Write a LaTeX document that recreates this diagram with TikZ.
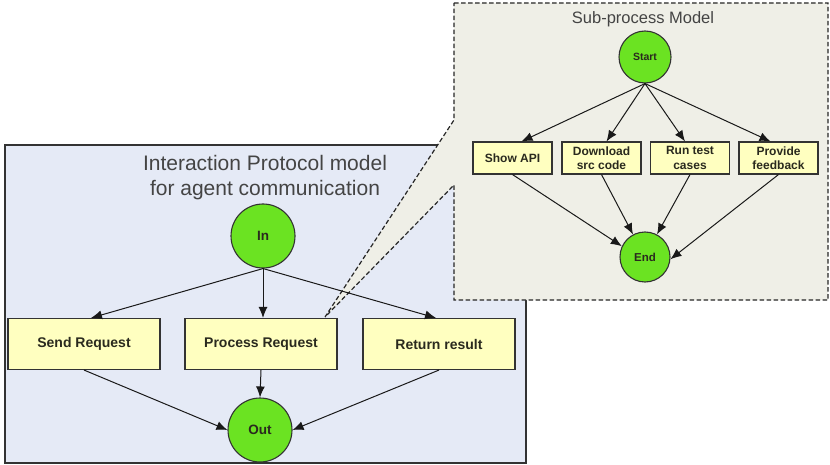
\documentclass[tikz,border=0pt]{standalone}
\usepackage{fontspec}
\setmainfont{Liberation Sans}
\usetikzlibrary{arrows.meta}
\definecolor{bluebg}{HTML}{E5EAF6}
\definecolor{calloutbg}{HTML}{EFEFE7}
\definecolor{boxyellow}{HTML}{FFFFC0}
\definecolor{nodegreen}{HTML}{6BE322}
\definecolor{edgegray}{HTML}{333333}
\definecolor{txtdark}{HTML}{2A2A1E}
\definecolor{titlegray}{HTML}{444444}
\tikzset{
  bigbox/.style={draw=edgegray, line width=1.1pt, fill=boxyellow, minimum width=152pt, minimum height=51pt, inner sep=0pt,
    font=\fontsize{14}{16}\selectfont\bfseries, text=txtdark},
  smallbox/.style={draw=edgegray, line width=1.1pt, fill=boxyellow, minimum width=79pt, minimum height=32pt, inner sep=0pt,
    align=center, font=\fontsize{12}{14.5}\selectfont\bfseries, text=txtdark},
  bigcirc/.style={circle, draw=edgegray, line width=1.1pt, fill=nodegreen, minimum size=64pt, inner sep=0pt,
    font=\fontsize{13.5}{15}\selectfont\bfseries, text=txtdark},
  smallcirc/.style={circle, draw=edgegray, line width=1.1pt, fill=nodegreen, minimum size=52pt, inner sep=0pt,
    font=\fontsize{11.5}{13}\selectfont\bfseries, text=txtdark},
  flow/.style={draw=black!90, line width=1pt, -{Latex[length=11pt,width=9pt]}},
  titletext/.style={align=center, text=titlegray, inner sep=0pt},
}
\begin{document}
\begin{tikzpicture}[x=1pt,y=-1pt]
\useasboundingbox (0,0) rectangle (830,465);
% main (blue) panel
\draw[draw=edgegray, line width=1.1pt, fill=bluebg] (5,145) rectangle (526,463);
% callout panel
\draw[draw=black!85, line width=1.2pt, dash pattern=on 4.5pt off 2.5pt, fill=calloutbg]
  (454,3) -- (828,3) -- (828,300) -- (454,300) -- (454,185) -- (325,317) -- (454,120) -- cycle;

% main diagram
\node[titletext, font=\fontsize{21}{25}\selectfont] (title) at (265,178) {Interaction Protocol model\\for agent communication};
\node[bigcirc] (in) at (263,236) {In};
\node[bigbox] (send) at (84,344) {Send Request};
\node[bigbox] (proc) at (261,344) {Process Request};
\node[bigbox] (ret) at (439,344) {Return result};
\node[bigcirc] (out) at (260,430) {Out};
\draw[flow] (in.south) -- ([xshift=7pt]send.north);
\draw[flow] (in.south) -- ([xshift=2pt]proc.north);
\draw[flow] (in.south) -- ([xshift=-3pt]ret.north);
\draw[flow] (send.south) -- (out.west);
\draw[flow] (proc.south) -- (out.north);
\draw[flow] (ret.south) -- (out.east);

% sub-process diagram
\node[titletext, font=\fontsize{16.5}{20}\selectfont] (subtitle) at (643,19) {Sub-process Model};
\node[smallcirc, font=\fontsize{10.5}{12}\selectfont\bfseries] (start) at (645,57) {Start};
\node[smallbox] (api) at (512.5,158) {Show API};
\node[smallbox] (dl) at (601.5,158) {Download\\src code};
\node[smallbox] (run) at (690,158) {Run test\\cases};
\node[smallbox] (fb) at (778.5,158) {Provide\\feedback};
\node[smallcirc, minimum size=50pt] (end) at (645,257) {End};
\draw[flow] (start.south) -- ([xshift=9pt]api.north);
\draw[flow] (start.south) -- ([xshift=5pt]dl.north);
\draw[flow] (start.south) -- ([xshift=-5pt]run.north);
\draw[flow] (start.south) -- ([xshift=-8pt]fb.north);
\draw[flow] (api.south) -- (end.155);
\draw[flow] (dl.south) -- (end.118);
\draw[flow] (run.south) -- (end.62);
\draw[flow] (fb.south) -- (end.-5);
\end{tikzpicture}
\end{document}
